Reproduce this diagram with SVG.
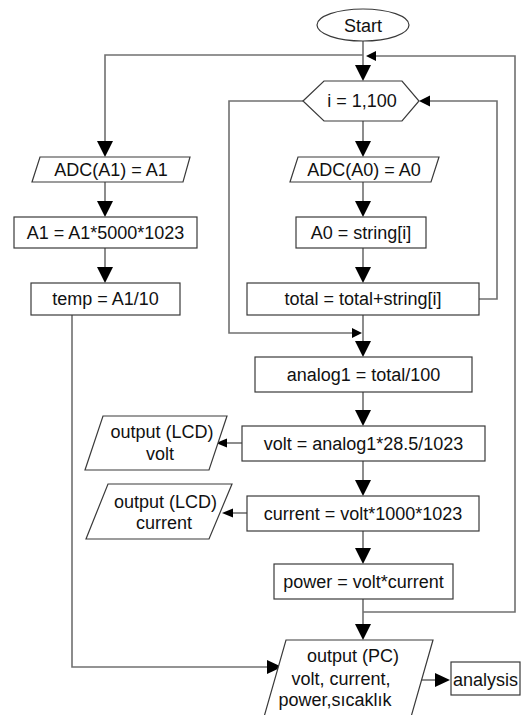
<svg xmlns="http://www.w3.org/2000/svg" width="528" height="715" viewBox="0 0 528 715">
<style>
.n{fill:#fff;stroke:#3a3a3a;stroke-width:1.2}
.c{fill:none;stroke:#707070;stroke-width:1.6}
.h{fill:#000;stroke:none}
text{font-family:"Liberation Sans",Arial,sans-serif;font-size:18px;fill:#111;text-anchor:middle}
</style>
<rect width="528" height="715" fill="#fff"/>
<g id="connectors">
<path class="c" d="M363 41V66"/>
<path class="c" d="M363 55H105V142"/>
<path class="c" d="M363 599V625"/>
<path class="c" d="M363 612H515V56H375"/>
<path class="c" d="M363 121V142"/>
<path class="c" d="M479 299H497V101H429"/>
<path class="c" d="M303 101H229V333H353"/>
<path class="c" d="M363 182V202"/>
<path class="c" d="M105 182V202"/>
<path class="c" d="M105 248V268"/>
<path class="c" d="M363 248V268"/>
<path class="c" d="M363 315V342"/>
<path class="c" d="M363 392V411"/>
<path class="c" d="M363 461V481"/>
<path class="c" d="M363 531V549"/>
<path class="c" d="M242 443H226"/>
<path class="c" d="M247 513H232"/>
<path class="c" d="M72 315V667H268"/>
<path class="c" d="M421 680H435"/>
<polygon class="h" points="355,65 371,65 363,81"/>
<polygon class="h" points="97,141 113,141 105,157"/>
<polygon class="h" points="355,141 371,141 363,157"/>
<polygon class="h" points="97,201 113,201 105,217"/>
<polygon class="h" points="355,201 371,201 363,217"/>
<polygon class="h" points="97,267 113,267 105,283"/>
<polygon class="h" points="355,267 371,267 363,283"/>
<polygon class="h" points="355,341 371,341 363,357"/>
<polygon class="h" points="355,410 371,410 363,426"/>
<polygon class="h" points="355,480 371,480 363,496"/>
<polygon class="h" points="355,548 371,548 363,564"/>
<polygon class="h" points="355,624 371,624 363,640"/>
<polygon class="h" points="376,51 376,61 366,56"/>
<polygon class="h" points="430,95.5 430,106.5 419,101"/>
<polygon class="h" points="352,328 352,338 362,333"/>
<polygon class="h" points="227,438.5 227,447.5 216,443"/>
<polygon class="h" points="233,508.5 233,517.5 222,513"/>
<polygon class="h" points="267,660 267,674 282,667"/>
<polygon class="h" points="435,673 435,687 450,680"/>
</g>
<g id="start"><ellipse class="n" cx="363" cy="25" rx="46" ry="16"/><text x="363" y="32">Start</text></g>
<g id="loop"><polygon class="n" points="303,101 324,81 402,81 419,101 402,121 324,121"/><text x="362" y="107">i = 1,100</text></g>
<g id="adc1"><polygon class="n" points="40,157 190,157 183,182 32,182"/><text x="111" y="176">ADC(A1) = A1</text></g>
<g id="a1"><rect class="n" x="14" y="217" width="183" height="31"/><text x="105.5" y="239">A1 = A1*5000*1023</text></g>
<g id="temp"><rect class="n" x="31" y="283" width="149" height="32"/><text x="105.5" y="305">temp = A1/10</text></g>
<g id="adc0"><polygon class="n" points="298,157 439,157 431,182 290,182"/><text x="364" y="176">ADC(A0) = A0</text></g>
<g id="a0"><rect class="n" x="296" y="217" width="130" height="31"/><text x="361" y="239">A0 = string[i]</text></g>
<g id="total"><rect class="n" x="247" y="283" width="232" height="32"/><text x="363" y="305">total = total+string[i]</text></g>
<g id="analog1"><rect class="n" x="255" y="357" width="217" height="35"/><text x="363.5" y="381">analog1 = total/100</text></g>
<g id="volt"><rect class="n" x="242" y="426" width="243" height="35"/><text x="363.5" y="450">volt = analog1*28.5/1023</text></g>
<g id="lcdvolt"><polygon class="n" points="103,416 227,416 209,470 85,470"/><text x="162" y="438">output (LCD)</text><text x="160" y="460">volt</text></g>
<g id="current"><rect class="n" x="247" y="496" width="232" height="35"/><text x="363" y="520">current = volt*1000*1023</text></g>
<g id="lcdcurrent"><polygon class="n" points="108,484 232,484 209,539 86,539"/><text x="165.5" y="508">output (LCD)</text><text x="164" y="529">current</text></g>
<g id="power"><rect class="n" x="274" y="564" width="179" height="35"/><text x="363.5" y="588">power = volt*current</text></g>
<g id="pc"><polygon class="n" points="286,640 433,640 411,717 264,717"/><text x="353" y="662">output (PC)</text><text x="341" y="685">volt, current,</text><text x="335" y="706">power,sıcaklık</text></g>
<g id="analysis"><rect class="n" x="451" y="662" width="69" height="33"/><text x="485.5" y="686">analysis</text></g>
</svg>
